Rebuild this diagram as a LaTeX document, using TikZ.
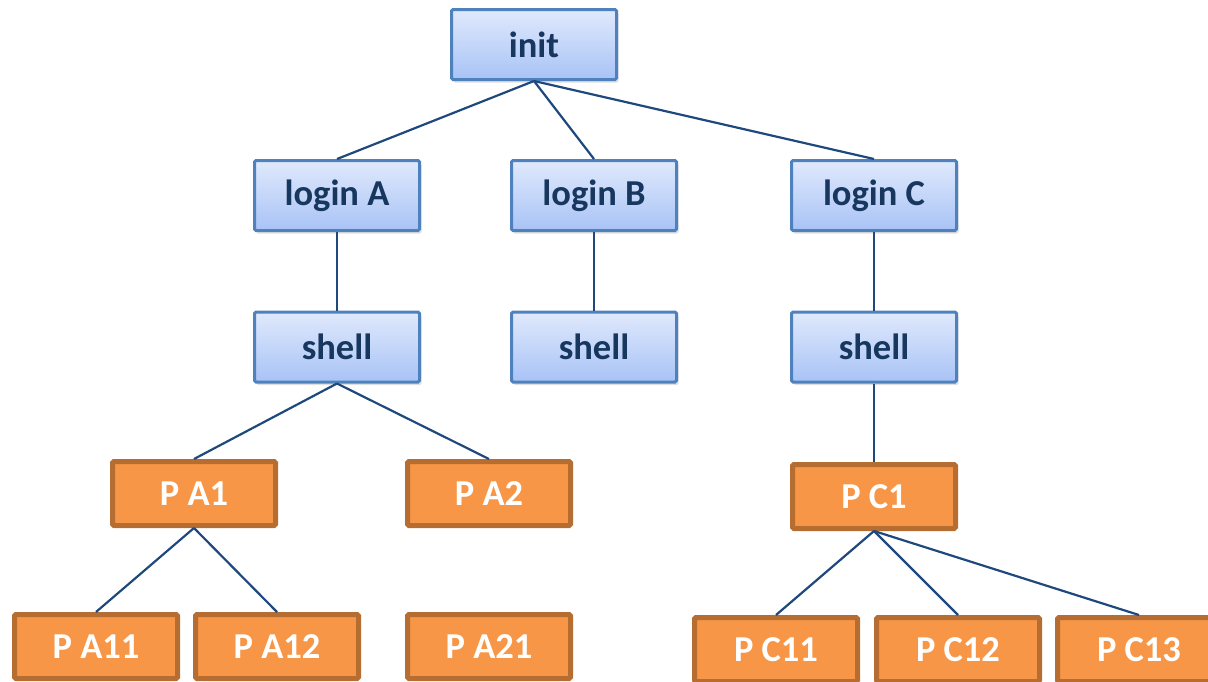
\documentclass[tikz,border=0pt]{standalone}
\usepackage{fontspec}
\setmainfont{Carlito}
\usetikzlibrary{shadows}
\definecolor{bluetop}{RGB}{224,233,252}
\definecolor{bluebot}{RGB}{168,195,246}
\definecolor{blueedge}{RGB}{79,129,189}
\definecolor{bluetext}{RGB}{23,55,94}
\definecolor{orfill}{RGB}{247,150,70}
\definecolor{oredge}{RGB}{182,109,49}
\definecolor{linec}{RGB}{31,73,125}
\begin{document}
\begin{tikzpicture}[x=1pt,y=-1pt,
  bluebox/.style={draw=blueedge, line width=3pt, rounded corners=1.5pt,
    top color=bluetop, bottom color=bluebot,
    minimum width=165pt, minimum height=70pt, inner sep=0pt,
    text=bluetext, font=\fontsize{36.5}{40}\selectfont\bfseries,
    drop shadow={opacity=0.25, shadow xshift=2pt, shadow yshift=-3pt}},
  orbox/.style={draw=oredge, line width=5pt, rounded corners=1.5pt,
    fill=orfill, minimum width=163pt, minimum height=64pt, inner sep=0pt,
    text=white, font=\fontsize{36.5}{40}\selectfont\bfseries},
  conn/.style={draw=linec, line width=2.2pt}]
\useasboundingbox (0,0) rectangle (1208,681);
\clip (0,0) rectangle (1208,681);
\node[bluebox] (init) at (534,44.5) {init};
\node[bluebox] (la) at (337,195.5) {login A};
\node[bluebox] (lb) at (594,195.5) {login B};
\node[bluebox] (lc) at (874,195.5) {login C};
\node[bluebox] (sa) at (337,347) {shell};
\node[bluebox] (sb) at (594,347) {shell};
\node[bluebox] (sc) at (874,347) {shell};
\node[orbox] (pa1) at (194,493.5) {P A1};
\node[orbox] (pa2) at (489,493.5) {P A2};
\node[orbox] (pc1) at (874,496.5) {P C1};
\node[orbox] (pa11) at (96,646.5) {P A11};
\node[orbox] (pa12) at (277,646.5) {P A12};
\node[orbox] (pa21) at (489,646.5) {P A21};
\node[orbox] (pc11) at (776,649.5) {P C11};
\node[orbox] (pc12) at (958,649.5) {P C12};
\node[orbox] (pc13) at (1139,649.5) {P C13};
\draw[conn] (init.south) -- (la.north);
\draw[conn] (init.south) -- (lb.north);
\draw[conn] (init.south) -- (lc.north);
\draw[conn] (la.south) -- (sa.north);
\draw[conn] (lb.south) -- (sb.north);
\draw[conn] (lc.south) -- (sc.north);
\draw[conn] (sa.south) -- (pa1.north);
\draw[conn] (sa.south) -- (pa2.north);
\draw[conn] (sc.south) -- (pc1.north);
\draw[conn] (pa1.south) -- (pa11.north);
\draw[conn] (pa1.south) -- (pa12.north);
\draw[conn] (pc1.south) -- (pc11.north);
\draw[conn] (pc1.south) -- (pc12.north);
\draw[conn] (pc1.south) -- (pc13.north);
\end{tikzpicture}
\end{document}
